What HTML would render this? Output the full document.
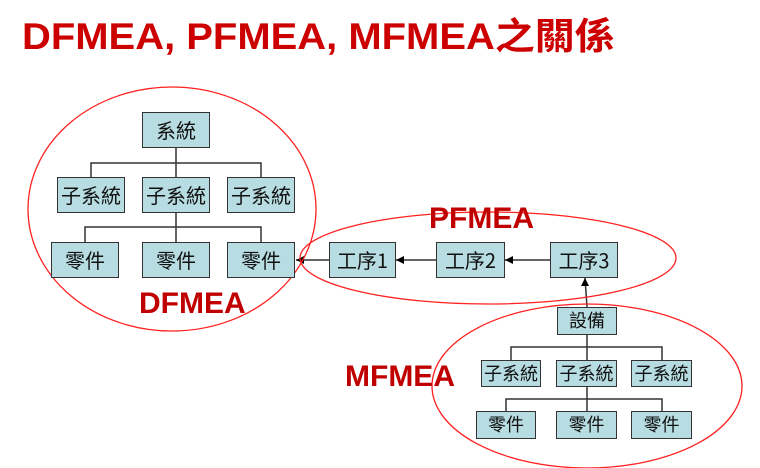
<!DOCTYPE html>
<html><head><meta charset="utf-8"><style>
body{margin:0;width:760px;height:468px;background:#fff;overflow:hidden;position:relative;font-family:"Liberation Sans","Noto Sans CJK TC",sans-serif}
.t{position:absolute;left:22px;top:6px;font-size:37px;font-weight:bold;color:#cc0000;white-space:nowrap;transform:scaleX(1.08);transform-origin:0 0}
.b{position:absolute;background:#b7dde2;border:1.5px solid #333;box-sizing:border-box;text-align:center;color:#111;font-family:"Noto Sans CJK TC","WenQuanYi Zen Hei",sans-serif;white-space:nowrap}
.l{position:absolute;font-weight:bold;color:#c00000;font-size:30px}
</style></head><body>
<div class="t">DFMEA, PFMEA, MFMEA之關係</div>
<svg width="760" height="468" style="position:absolute;left:0;top:0">
<g stroke="#333" stroke-width="1.5" fill="none">
<path d="M176 148V177M91 177V163H261V177M176 213V242M85 242V227H261V242"/>
<path d="M587 335V360M511 360V347H662V347V360M587 387V411M506 411V399H662V411"/>
<path d="M550 260H505M436 260H396M329 260H296M587 307L585 278"/>
</g>
<g fill="#000">
<path d="M505 260l8-4v8z"/><path d="M396 260l8-4v8z"/><path d="M296 260l8-4v8z"/><path d="M585 278l-4 8h8z"/>
</g>
<g stroke="#ff2020" stroke-width="1.3" fill="none">
<ellipse cx="172" cy="209" rx="144" ry="122"/>
<ellipse cx="488" cy="258" rx="188" ry="46"/>
<ellipse cx="587" cy="386" rx="155" ry="82"/>
</g>
</svg>
<div class="b" style="left:142px;top:112px;width:68px;height:36px;line-height:33px;font-size:20px">系統</div>
<div class="b" style="left:57px;top:177px;width:68px;height:36px;line-height:33px;font-size:20px">子系統</div>
<div class="b" style="left:142px;top:177px;width:68px;height:36px;line-height:33px;font-size:20px">子系統</div>
<div class="b" style="left:227px;top:177px;width:68px;height:36px;line-height:33px;font-size:20px">子系統</div>
<div class="b" style="left:51px;top:242px;width:68px;height:36px;line-height:33px;font-size:20px">零件</div>
<div class="b" style="left:142px;top:242px;width:68px;height:36px;line-height:33px;font-size:20px">零件</div>
<div class="b" style="left:227px;top:242px;width:68px;height:36px;line-height:33px;font-size:20px">零件</div>
<div class="b" style="left:329px;top:242px;width:67px;height:36px;line-height:33px;font-size:20px">工序1</div>
<div class="b" style="left:436px;top:242px;width:69px;height:36px;line-height:33px;font-size:20px">工序2</div>
<div class="b" style="left:550px;top:242px;width:68px;height:36px;line-height:33px;font-size:20px">工序3</div>
<div class="b" style="left:557px;top:307px;width:60px;height:28px;line-height:25px;font-size:18px">設備</div>
<div class="b" style="left:481px;top:360px;width:60px;height:27px;line-height:24px;font-size:18px">子系統</div>
<div class="b" style="left:556px;top:360px;width:61px;height:27px;line-height:24px;font-size:18px">子系統</div>
<div class="b" style="left:631px;top:360px;width:61px;height:27px;line-height:24px;font-size:18px">子系統</div>
<div class="b" style="left:476px;top:411px;width:60px;height:28px;line-height:25px;font-size:18px">零件</div>
<div class="b" style="left:556px;top:411px;width:61px;height:28px;line-height:25px;font-size:18px">零件</div>
<div class="b" style="left:631px;top:411px;width:61px;height:28px;line-height:25px;font-size:18px">零件</div>
<div class="l" style="left:139px;top:287px">DFMEA</div>
<div class="l" style="left:429px;top:202px">PFMEA</div>
<div class="l" style="left:345px;top:360px">MFMEA</div>
</body></html>
